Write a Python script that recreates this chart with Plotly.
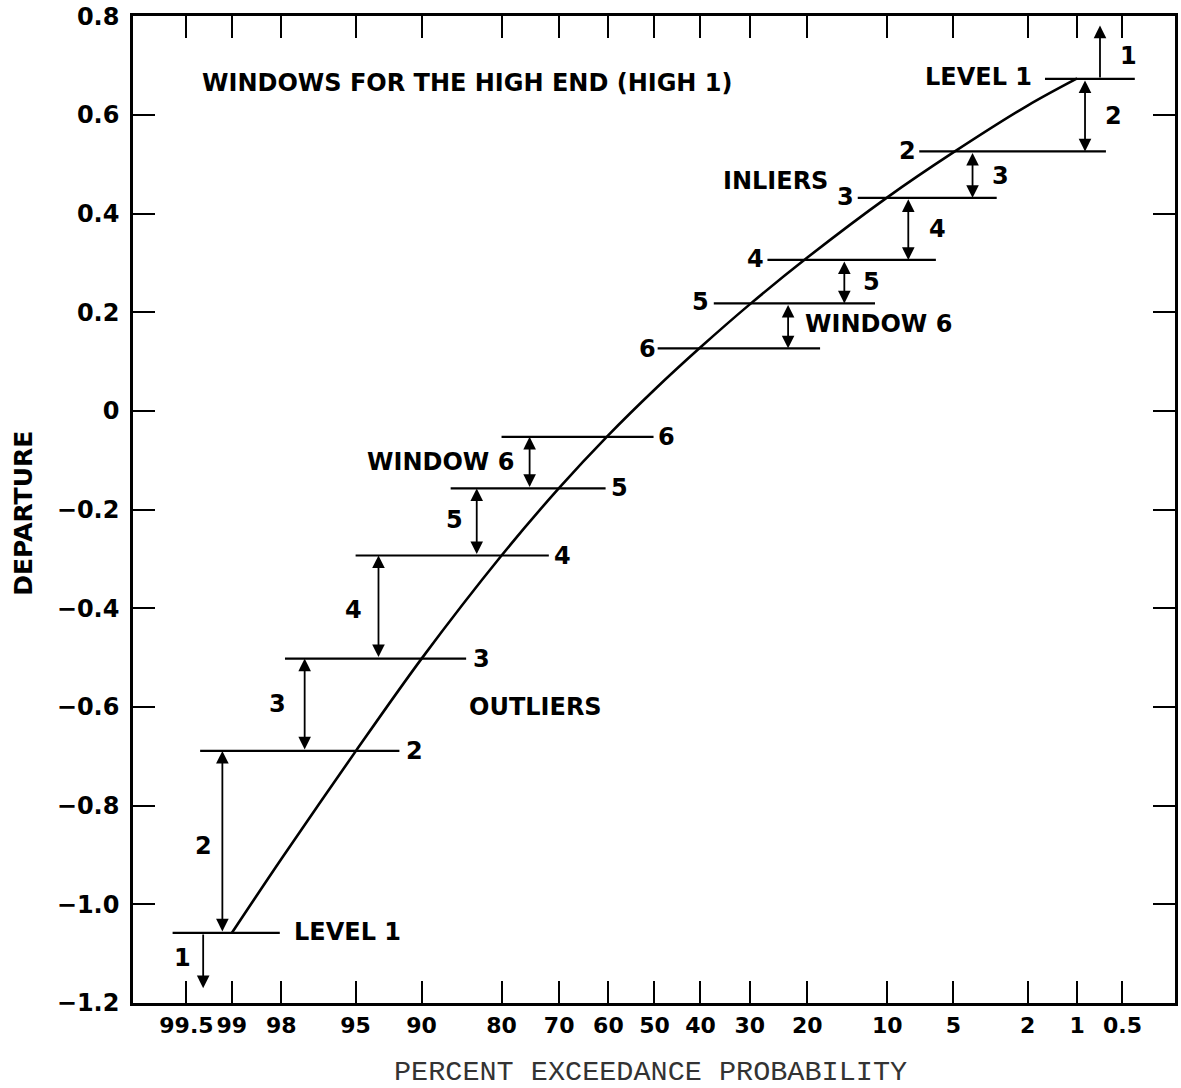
import plotly.graph_objects as go
from statistics import NormalDist

# ---------------- data ----------------
tick_percent = [99.5, 99, 98, 95, 90, 80, 70, 60, 50, 40, 30, 20, 10, 5, 2, 1, 0.5]
tick_labels = ["99.5", "99", "98", "95", "90", "80", "70", "60", "50", "40",
               "30", "20", "10", "5", "2", "1", "0.5"]
y_ticks = [0.8, 0.6, 0.4, 0.2, 0.0, -0.2, -0.4, -0.6, -0.8, -1.0, -1.2]
y_tick_labels = ["0.8", "0.6", "0.4", "0.2", "0", "\u22120.2", "\u22120.4",
                 "\u22120.6", "\u22120.8", "\u22121.0", "\u22121.2"]

# fitted curve: percent exceedance probability vs departure
curve_percent = [99, 98, 95, 90, 80, 70, 60, 50, 40, 30, 20, 10, 5, 2, 1]
curve_departure = [-1.058, -0.908, -0.690, -0.502, -0.293, -0.156, -0.049,
                   0.043, 0.129, 0.216, 0.311, 0.433, 0.524, 0.619, 0.674]

# windows for the low side (outliers)
low_levels = [-1.058, -0.689, -0.502, -0.293, -0.157, -0.0525]
low_from_pct = [99.6, 99.38, 97.9, 95.0, 86.9, 80.0]
low_to_pct = [98.04, 91.98, 85.0, 71.95, 60.6, 50.2]
low_arrow_pct = [99.35, 99.13, 97.29, 93.56, 83.6, 75.4]
low_level1_limit = -1.17

# windows for the high side (inliers)
high_levels = [0.673, 0.526, 0.432, 0.306, 0.218, 0.127]
high_from_pct = [1.58, 7.25, 13.16, 26.7, 37.2, 49.3]
high_to_pct = [0.41, 0.648, 2.98, 6.07, 11.24, 18.1]
high_arrow_pct = [0.71, 0.89, 4.0, 8.12, 14.8, 23.1]
high_level1_limit = 0.781

# text labels: (text, percent, departure, xanchor)
labels = [
    ("WINDOWS FOR THE HIGH END (HIGH 1)", 99.38, 0.665, "left"),
    # low side
    ("1", 99.53, -1.109, "center"),
    ("2", 99.35, -0.881, "center"),
    ("3", 98.09, -0.594, "center"),
    ("4", 95.12, -0.404, "center"),
    ("5", 86.5, -0.221, "center"),
    ("WINDOW 6", 88.0, -0.104, "center"),
    ("LEVEL 1", 97.71, -1.056, "left"),
    ("2", 90.7, -0.689, "center"),
    ("3", 82.9, -0.502, "center"),
    ("4", 69.3, -0.293, "center"),
    ("5", 57.6, -0.157, "center"),
    ("6", 47.3, -0.0525, "center"),
    ("OUTLIERS", 74.3, -0.601, "center"),
    # high side
    ("LEVEL 1", 1.83, 0.676, "right"),
    ("1", 0.454, 0.7186, "center"),
    ("2", 0.575, 0.597, "center"),
    ("3", 2.84, 0.476, "center"),
    ("4", 5.96, 0.368, "center"),
    ("5", 11.66, 0.2606, "center"),
    ("WINDOW 6", 20.7, 0.1764, "left"),
    ("2", 8.18, 0.526, "center"),
    ("3", 14.6, 0.434, "center"),
    ("INLIERS", 25.25, 0.466, "center"),
    ("4", 28.9, 0.307, "center"),
    ("5", 40.1, 0.220, "center"),
    ("6", 51.5, 0.126, "center"),
]

# ---------------- helpers ----------------
ND = NormalDist()


def zx(p):
    """normal-probability scale position for a percent exceedance"""
    return ND.inv_cdf(1 - p / 100.0)


BOLD = dict(family="DejaVu Sans", size=24, color="black", weight="bold")
TICKFONT = dict(family="DejaVu Sans", size=22, color="black", weight="bold")

fig = go.Figure()

# curve
fig.add_trace(go.Scatter(
    x=[zx(p) for p in curve_percent], y=curve_departure,
    mode="lines", line=dict(color="black", width=2.6, shape="spline", smoothing=0.9),
    hoverinfo="skip", showlegend=False))

# window lines
wx, wy = [], []
for lv, a, b in zip(low_levels + high_levels, low_from_pct + high_from_pct,
                    low_to_pct + high_to_pct):
    wx += [zx(a), zx(b), None]
    wy += [lv, lv, None]
fig.add_trace(go.Scatter(x=wx, y=wy, mode="lines",
                         line=dict(color="black", width=2.2),
                         hoverinfo="skip", showlegend=False))

annotations = []


def arrow(p, y_from, y_to, double=True):
    annotations.append(dict(
        x=zx(p), y=y_to, ax=zx(p), ay=y_from,
        xref="x", yref="y", axref="x", ayref="y",
        text="", showarrow=True, arrowhead=2, arrowsize=1.4, arrowwidth=1.8,
        arrowcolor="black", arrowside="end+start" if double else "end",
        standoff=0, startstandoff=0))


# low side arrows
arrow(low_arrow_pct[0], low_levels[0], low_level1_limit, double=False)
for i in range(1, 6):
    arrow(low_arrow_pct[i], low_levels[i - 1], low_levels[i])
# high side arrows
arrow(high_arrow_pct[0], high_levels[0], high_level1_limit, double=False)
for i in range(1, 6):
    arrow(high_arrow_pct[i], high_levels[i - 1], high_levels[i])

for text, p, y, anchor in labels:
    annotations.append(dict(
        x=zx(p), y=y, xref="x", yref="y", text=text, showarrow=False,
        xanchor=anchor, yanchor="middle", font=BOLD))

# axis titles
annotations.append(dict(
    x=-0.1053, y=0.496, xref="paper", yref="paper", text="DEPARTURE",
    textangle=-90, showarrow=False, xanchor="center", yanchor="middle",
    font=dict(family="DejaVu Sans", size=25, color="black", weight="bold")))
annotations.append(dict(
    x=0.497, y=-0.0707, xref="paper", yref="paper",
    text="PERCENT EXCEEDANCE PROBABILITY", showarrow=False,
    xanchor="center", yanchor="middle",
    font=dict(family="Courier New, Nimbus Mono PS, Courier, Liberation Mono, monospace",
              size=28.5, color="#333333")))

axis_common = dict(
    showgrid=False, zeroline=False, showline=True, linecolor="black", linewidth=2.5,
    mirror="allticks", ticks="inside", ticklen=22, tickwidth=2, tickcolor="black",
    tickfont=TICKFONT, ticklabeloverflow="allow")

fig.update_xaxes(range=[-2.87, 2.865], tickmode="array",
                 tickvals=[zx(p) for p in tick_percent], ticktext=tick_labels,
                 tickangle=0, ticklabelstandoff=1, **axis_common)
fig.update_yaxes(range=[-1.2, 0.8005], tickmode="array", tickvals=y_ticks,
                 ticktext=y_tick_labels, ticklabelstandoff=6,
                 tickfont=BOLD,
                 **{k: v for k, v in axis_common.items() if k != "tickfont"})

fig.update_layout(
    width=1181, height=1088,
    margin=dict(l=133, r=3, t=13, b=85),
    paper_bgcolor="white", plot_bgcolor="white",
    annotations=annotations, showlegend=False)

fig.write_html("out.html")
